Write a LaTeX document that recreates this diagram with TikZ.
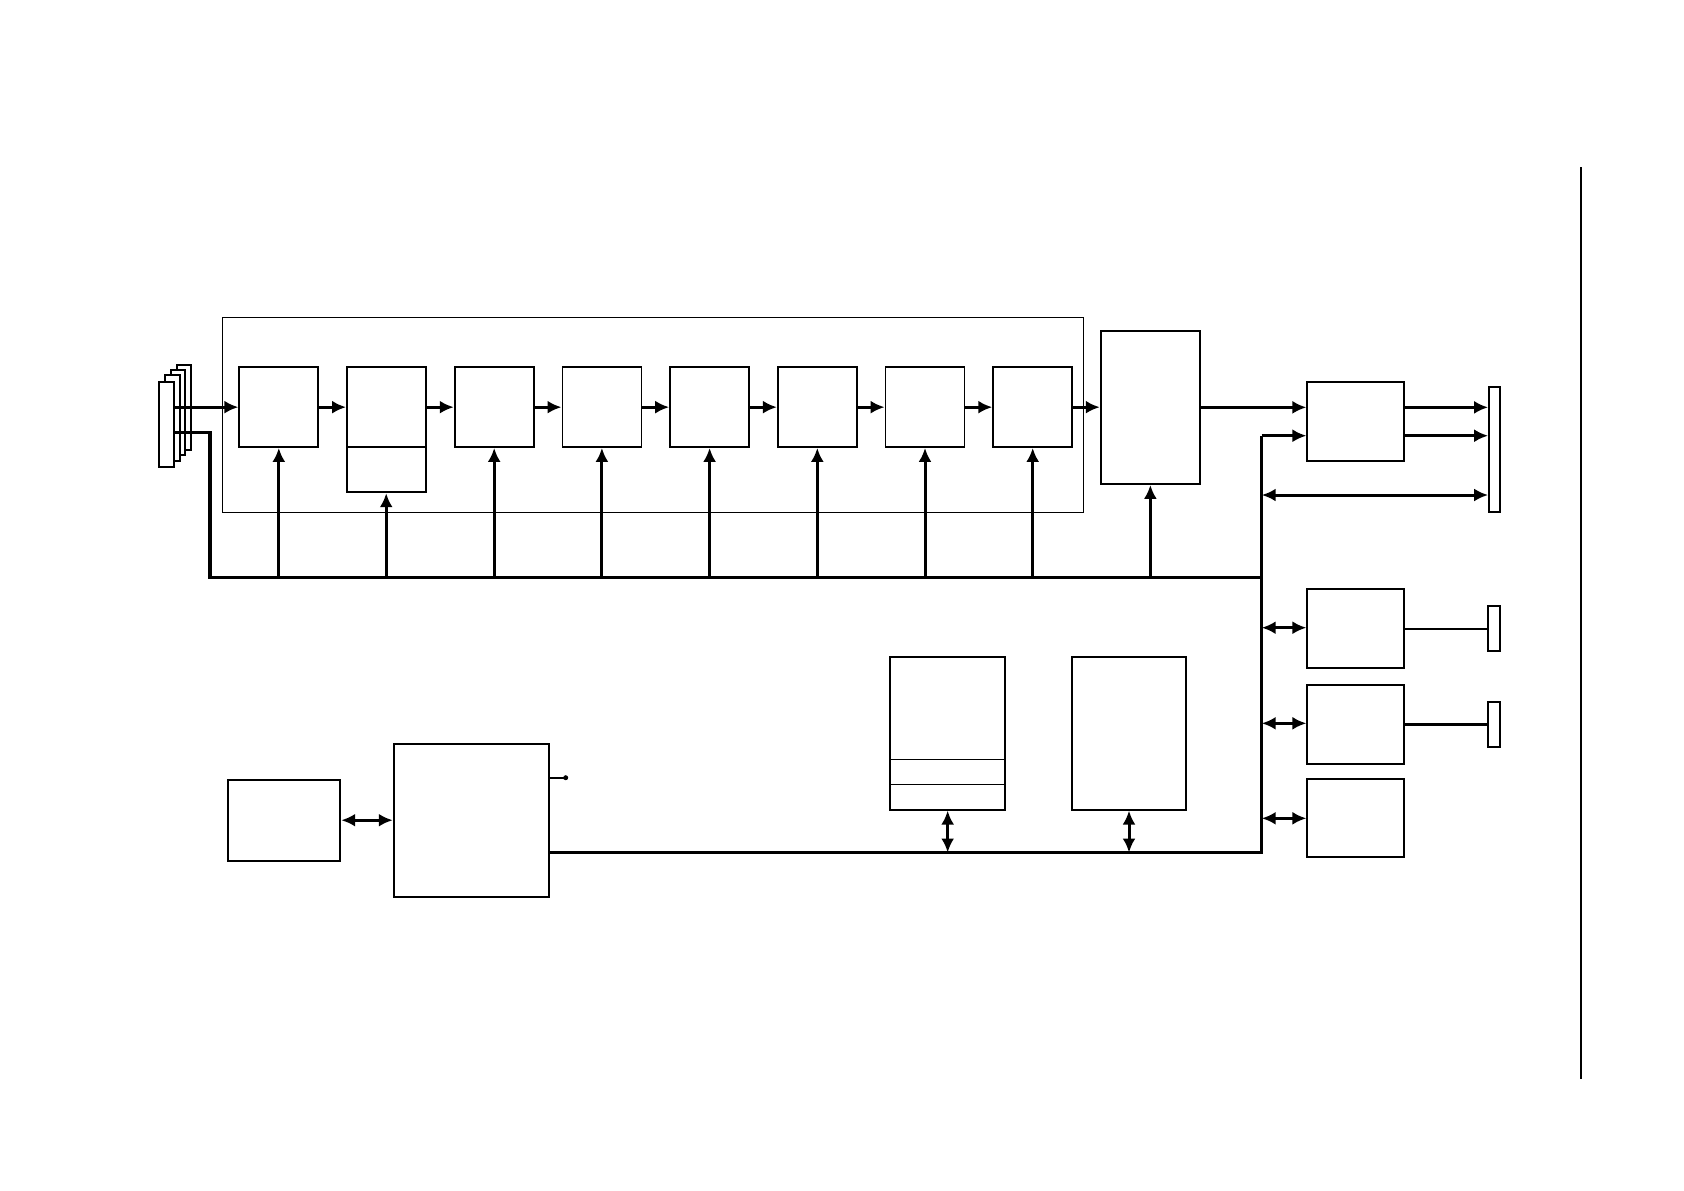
\documentclass[tikz,border=0pt]{standalone}
\usetikzlibrary{arrows.meta,fit}
\begin{document}
\begin{tikzpicture}[x=0.5pt,y=-0.5pt,
  box/.style={draw, line width=0.9pt, inner sep=0pt, fill=white},
  thinbox/.style={draw, line width=0.5pt, inner sep=0pt},
  conn/.style={line width=1.5pt, -{Latex[length=7pt,width=6.5pt]}},
  dconn/.style={line width=1.5pt, {Latex[length=7pt,width=6.5pt]}-{Latex[length=7pt,width=6.5pt]}},
  busline/.style={line width=1.6pt},
  plain/.style={line width=1.4pt}]
\useasboundingbox (0,0) rectangle (1684,1190);

% outer frame
\node[thinbox, fit={(222.3,317) (1083,512.7)}] (frame) {};

% stacked plates
\node[box, fit={(176.7,364.7) (191,450)}] (p4) {};
\node[box, fit={(170.7,370) (185.3,455)}] (p3) {};
\node[box, fit={(165.3,375) (180,461)}] (p2) {};
\node[box, fit={(159.3,381.7) (174,466.7)}] (p1) {};

% chain of blocks
\foreach \i in {1,...,8}{
  \pgfmathsetmacro\xl{239.3+107.7*(\i-1)}
  \pgfmathsetmacro\xr{\xl+79}
  \node[box, fit={(\xl,367.3) (\xr,447)}] (b\i) {};
}
\node[box, fit={(346.7,447) (425.7,492.3)}] (b2x) {};

% big block
\node[box, fit={(1100.7,330.7) (1200,484)}] (big) {};

% right blocks
\node[box, fit={(1307.3,381.7) (1404,461)}] (r1) {};
\node[box, fit={(1307.3,589) (1404,668)}] (r2) {};
\node[box, fit={(1307.3,685) (1404,764)}] (r3) {};
\node[box, fit={(1307.3,778.7) (1404,857.3)}] (r4) {};

% connector bars
\node[box, fit={(1489,387.3) (1500,512.3)}] (c1) {};
\node[box, fit={(1488.3,606.3) (1500.3,651)}] (c2) {};
\node[box, fit={(1488.3,702.3) (1500.3,747)}] (c3) {};

% lower blocks
\node[box, fit={(227.7,779.7) (340.3,860.7)}] (mem) {};
\node[box, fit={(393.7,743.7) (549,897)}] (cpu) {};
\node[box, fit={(890,656.7) (1005.3,809.7)}] (m1) {};
\draw[line width=0.6pt] (890,759.3) -- (1005.3,759.3) (890,784.3) -- (1005.3,784.3);
\node[box, fit={(1071.7,656.7) (1186.3,809.7)}] (m2) {};

% bus coordinates
\coordinate (busTL) at (210,577.7);
\coordinate (busTR) at (1261.7,577.7);
\coordinate (busR1) at (1261.7,435.7);
\coordinate (busBR) at (1261.7,852.5);
\coordinate (busBL) at (549,852.5);
\coordinate (dot) at (565.7,777.7);

% chain arrows
\draw[conn] (p1.east |- b1.west) -- (b1.west);
\foreach \i/\j in {1/2,2/3,3/4,4/5,5/6,6/7,7/8}{
  \draw[conn] (b\i.east) -- (b\j.west);
}
\draw[conn] (b8.east) -- (b8.east -| big.west);
\draw[conn] (big.east) -- (big.east -| r1.west);

% control bus
\draw[busline] (p1.east |- 0,432.3) -| (busTL) -- (busTR);
\foreach \i in {1,3,4,5,6,7,8}{
  \draw[conn] (b\i.south |- busTL) -- (b\i.south);
}
\draw[conn] (b2x.south |- busTL) -- (b2x.south);
\draw[conn] (big.south |- busTL) -- (big.south);

% main vertical bus
\draw[busline] (busBL) -- (busBR) -- (busR1);
\draw[conn] (busR1) -- (busR1 -| r1.west);
\draw[conn] (r1.east |- big.east) -- (c1.west |- big.east);
\draw[conn] (r1.east |- busR1) -- (c1.west |- busR1);
\draw[dconn] (1261.7,495) -- (c1.west |- 0,495);

\draw[dconn] (1261.7,627.7) -- (r2.west |- 0,627.7);
\draw[dconn] (1261.7,723.3) -- (r3.west |- 0,723.3);
\draw[dconn] (1261.7,818.3) -- (r4.west |- 0,818.3);
\draw[plain] (r2.east |- 0,629) -- (c2.west |- 0,629);
\draw[plain] (r3.east |- 0,724.3) -- (c3.west |- 0,724.3);

% lower connections
\draw[dconn] (mem.east) -- (mem.east -| cpu.west);
\draw[dconn] (m1.south) -- (m1.south |- busBL);
\draw[dconn] (m2.south) -- (m2.south |- busBL);
\draw[line width=0.8pt] (cpu.east |- dot) -- (dot);
\fill (dot) circle (2.5);

% right rule
\draw[line width=0.8pt] (1581,167) -- (1581,1079);
\end{tikzpicture}
\end{document}
